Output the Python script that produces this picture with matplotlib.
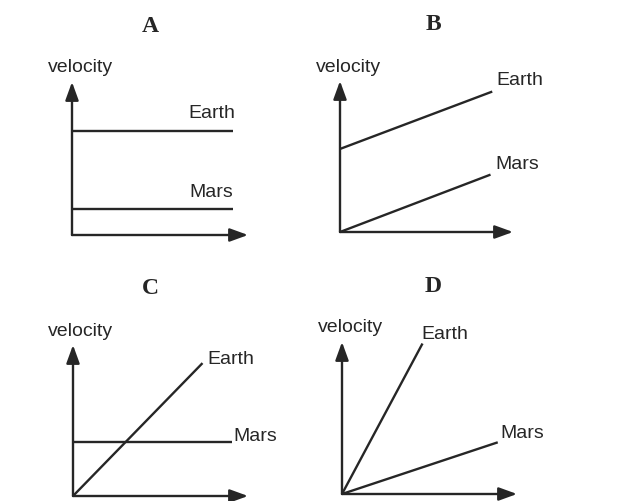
import matplotlib.pyplot as plt

# panel letters and time axis (arbitrary units, 0..10 along each axis)
panels = ['A', 'B', 'C', 'D']
times = [0, 10]

# velocity lines per panel: (t_start, t_end), (v_start, v_end)
earth_t = [(0, 9.15), (0, 8.8), (0, 7.4), (0, 4.6)]
earth_v = [(6.8, 6.8), (5.5, 9.3), (0, 8.8), (0, 9.9)]
mars_t = [(0, 9.15), (0, 8.7), (0, 9.1), (0, 8.9)]
mars_v = [(1.7, 1.7), (0, 3.8), (3.6, 3.6), (0, 3.4)]

# layout in pixels: axis origin, arrow tips, title centre
W, H = 620, 502
origins = [(72, 236), (340, 233), (73, 497), (342, 495)]
tips = [(248, 83), (513, 82), (248, 346), (517, 343)]
title_pos = [(150, 27), (433, 25), (150, 288), (433, 287)]
# label offsets from line end in pixels (dx, dy, ha)
earth_off = [(2, 18, 'right'), (4, 12, 'left'), (5, 5, 'left'), (-1, 10, 'left')]
mars_off = [(0, 17, 'right'), (5, 11, 'left'), (1, 6, 'left'), (3, 10, 'left')]

ink = '#262626'
sans = 'Liberation Sans'

fig = plt.figure(figsize=(6.2, 5.02), dpi=100)
fig.patch.set_facecolor('white')

for i, name in enumerate(panels):
    ox, oy = origins[i]
    tx, ty = tips[i]
    ax = fig.add_axes([ox / W, 1 - oy / H, (tx - ox) / W, (oy - ty) / H])
    ax.set_xlim(times)
    ax.set_ylim(0, 10)
    ax.axis('off')

    # axes drawn as arrows
    arrow = dict(arrowstyle='-|>,head_length=1.1,head_width=0.4', color=ink,
                 lw=1.7, shrinkA=0, shrinkB=0, mutation_scale=10)
    ax.annotate('', xy=(10, 0), xytext=(0, 0), arrowprops=arrow,
                annotation_clip=False)
    ax.annotate('', xy=(0, 10), xytext=(0, 0), arrowprops=arrow,
                annotation_clip=False)

    ax.plot(earth_t[i], earth_v[i], color=ink, lw=1.7, clip_on=False,
            solid_capstyle='butt')
    ax.plot(mars_t[i], mars_v[i], color=ink, lw=1.7, clip_on=False,
            solid_capstyle='butt')

    dx, dy, ha = earth_off[i]
    ax.annotate('Earth', xy=(earth_t[i][1], earth_v[i][1]), xytext=(dx, dy),
                textcoords='offset pixels', ha=ha, va='center',
                fontsize=14, family=sans, color=ink, annotation_clip=False)
    dx, dy, ha = mars_off[i]
    ax.annotate('Mars', xy=(mars_t[i][1], mars_v[i][1]), xytext=(dx, dy),
                textcoords='offset pixels', ha=ha, va='center',
                fontsize=14, family=sans, color=ink, annotation_clip=False)

    ax.annotate('velocity', xy=(0, 10), xytext=(8, 15),
                textcoords='offset pixels', ha='center', va='center',
                fontsize=14, family=sans, color=ink, annotation_clip=False)

    px, py = title_pos[i]
    fig.text(px / W, 1 - py / H, name, ha='center', va='center',
             fontsize=17, fontweight='bold', family='Liberation Serif',
             color=ink)

fig.savefig('out.png', dpi=100, facecolor='white')
